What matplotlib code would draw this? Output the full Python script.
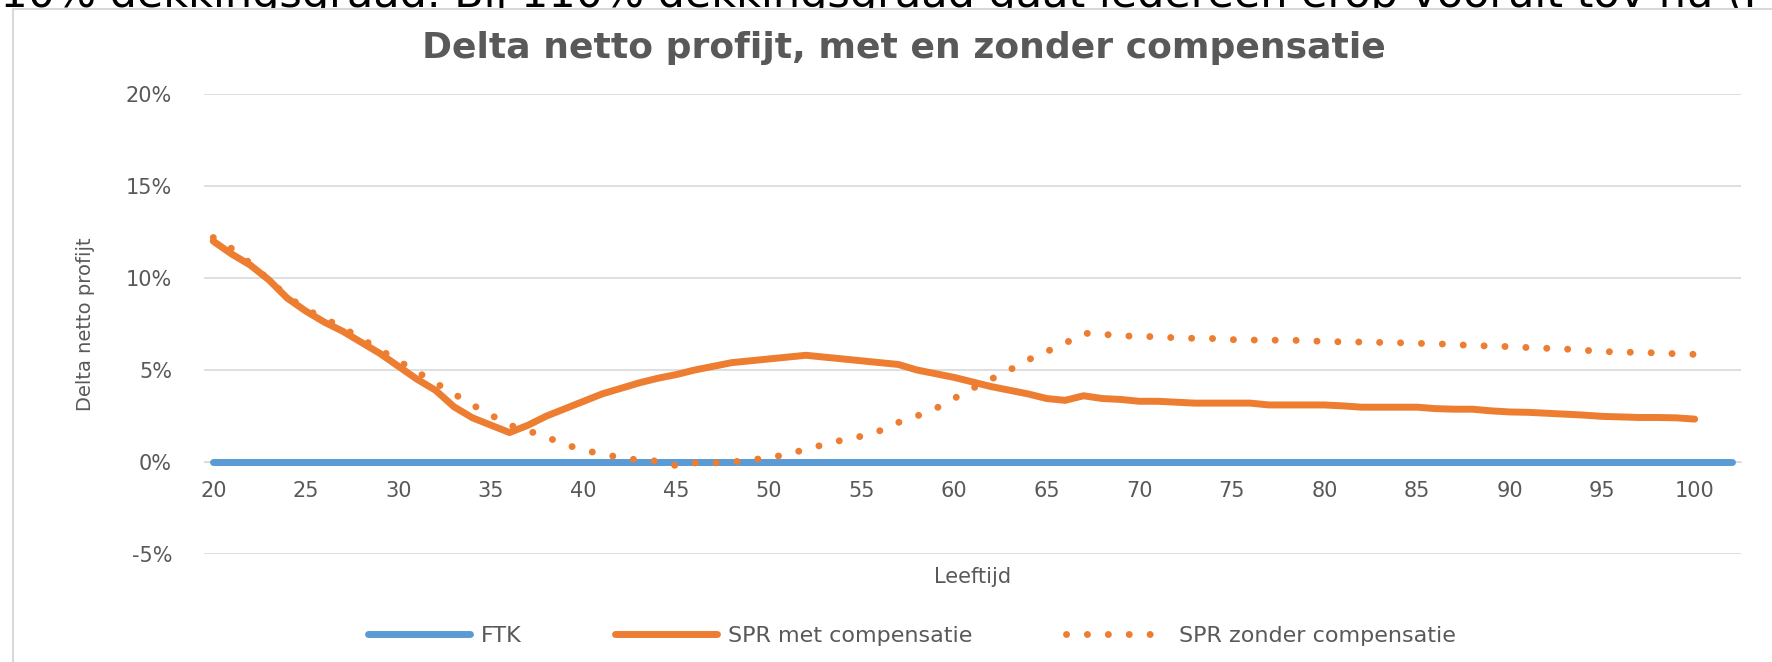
import numpy as np
import matplotlib
matplotlib.use("Agg")
import matplotlib.pyplot as plt
from matplotlib.ticker import PercentFormatter, FixedLocator
from matplotlib.patches import Rectangle

plt.rcParams["axes.unicode_minus"] = False

# ---------------- data ----------------
ages_ftk = list(range(20, 103))
ftk = [0.0] * len(ages_ftk)

ages_spr = list(range(20, 101))
spr_met = [  # % per age 20..100
    12.0, 11.3, 10.7, 9.9, 8.9, 8.2, 7.6, 7.1, 6.5, 5.9,
    5.2, 4.5, 3.9, 3.0, 2.4, 2.0, 1.6, 2.0, 2.5, 2.9,
    3.3, 3.7, 4.0, 4.3, 4.55, 4.75, 5.0, 5.2, 5.4, 5.5,
    5.6, 5.7, 5.8, 5.7, 5.6, 5.5, 5.4, 5.3, 5.0, 4.8,
    4.6, 4.35, 4.1, 3.9, 3.7, 3.45, 3.35, 3.6, 3.45, 3.4,
    3.3, 3.3, 3.25, 3.2, 3.2, 3.2, 3.2, 3.1, 3.1, 3.1,
    3.1, 3.05, 2.98, 2.98, 2.98, 2.98, 2.9, 2.87, 2.87, 2.78,
    2.72, 2.7, 2.65, 2.6, 2.55, 2.48, 2.45, 2.42, 2.42, 2.4,
    2.33]
spr_zonder = [  # % per age 20..100
    12.2, 11.6, 10.8, 9.9, 9.0, 8.3, 7.8, 7.3, 6.7, 6.1,
    5.5, 4.9, 4.3, 3.7, 3.1, 2.55, 2.0, 1.7, 1.35, 0.95,
    0.65, 0.42, 0.25, 0.1, 0.05, -0.2, -0.05, -0.05, 0.0, 0.1,
    0.25, 0.4, 0.7, 0.95, 1.2, 1.4, 1.7, 2.15, 2.5, 2.9,
    3.45, 4.0, 4.5, 5.0, 5.55, 6.0, 6.45, 7.0, 6.95, 6.85,
    6.84, 6.8, 6.75, 6.72, 6.71, 6.65, 6.63, 6.62, 6.62, 6.6,
    6.55, 6.53, 6.52, 6.5, 6.48, 6.45, 6.43, 6.38, 6.33, 6.3,
    6.27, 6.22, 6.18, 6.14, 6.08, 6.0, 5.98, 5.95, 5.93, 5.88,
    5.85]

x_ticks = list(range(20, 101, 5))
y_ticks = [-5, 0, 5, 10, 15, 20]

series_names = ["FTK", "SPR met compensatie", "SPR zonder compensatie"]
title = "Delta netto profijt, met en zonder compensatie"
top_text = "110% dekkingsgraad. Bij 110% dekkingsgraad gaat iedereen erop vooruit tov nu (FTK)"

# ---------------- style ----------------
BLUE = "#5B9BD5"
ORANGE = "#ED7D31"
GRID = "#D9D9D9"
TXT = "#595959"

W, H = 1772, 662
fig = plt.figure(figsize=(W / 100, H / 100), dpi=100)
fig.patch.set_facecolor("white")

# clipped slide text at the very top (partly hidden behind the chart box)
fig.text(-0.015, 1 - 7 / H, top_text, fontsize=31, color="black",
         ha="left", va="baseline", family="DejaVu Sans", zorder=0.5)

# chart area box (white fill, grey border; left and top edges visible)
box = Rectangle((13 / W, -0.05), 1.05, 1 - 9 / H + 0.05, transform=fig.transFigure,
                facecolor="white", edgecolor=GRID, lw=1.5, zorder=1)
fig.add_artist(box)

left, right = 204 / W, 1741 / W
bottom, top = (H - 554) / H, (H - 94) / H
ax = fig.add_axes([left, bottom, right - left, top - bottom])
ax.set_zorder(2)
ax.patch.set_alpha(0)

lw = 5
ax.plot(ages_ftk, np.array(ftk) / 100, color=BLUE, lw=lw,
        solid_capstyle="round", label=series_names[0], zorder=3)
ax.plot(ages_spr, np.array(spr_met) / 100, color=ORANGE, lw=lw,
        solid_capstyle="round", solid_joinstyle="round",
        label=series_names[1], zorder=4)
ax.plot(ages_spr, np.array(spr_zonder) / 100, color=ORANGE, lw=lw,
        linestyle=(0, (0.01, 3.0)), dash_capstyle="round",
        label=series_names[2], zorder=5)

ax.set_xlim(19.5, 102.5)
ax.set_ylim(-0.05, 0.20)
ax.xaxis.set_major_locator(FixedLocator(x_ticks))
ax.yaxis.set_major_locator(FixedLocator([v / 100 for v in y_ticks]))
ax.yaxis.set_major_formatter(PercentFormatter(1.0, decimals=0))

ax.grid(axis="y", color=GRID, lw=1.2, zorder=0)
ax.grid(axis="x", visible=False)
for s in ["left", "right", "top"]:
    ax.spines[s].set_visible(False)
ax.spines["bottom"].set_position(("data", 0))
ax.spines["bottom"].set_color(GRID)

ax.tick_params(axis="x", length=0, pad=14, labelsize=15, labelcolor=TXT)
ax.tick_params(axis="y", length=0, pad=23, labelsize=15, labelcolor=TXT)

ax.set_xlabel("Leeftijd", fontsize=15, color=TXT)
ax.xaxis.set_label_coords(0.5, -0.028)
ax.set_ylabel("Delta netto profijt", fontsize=14, color=TXT)
ax.yaxis.set_label_coords(-0.071, 0.5)

fig.text(904 / W, 1 - 48 / H, title, fontsize=26, fontweight="bold",
         color=TXT, ha="center", va="center", zorder=3)

leg = fig.legend(loc="center", bbox_to_anchor=(912 / W, 1 - 636 / H), ncol=3,
                 frameon=False, fontsize=16, handlelength=4.6, handletextpad=0.5,
                 columnspacing=4.2, labelcolor=TXT)
leg.set_zorder(3)

fig.savefig("out.png", dpi=100, facecolor="white")
